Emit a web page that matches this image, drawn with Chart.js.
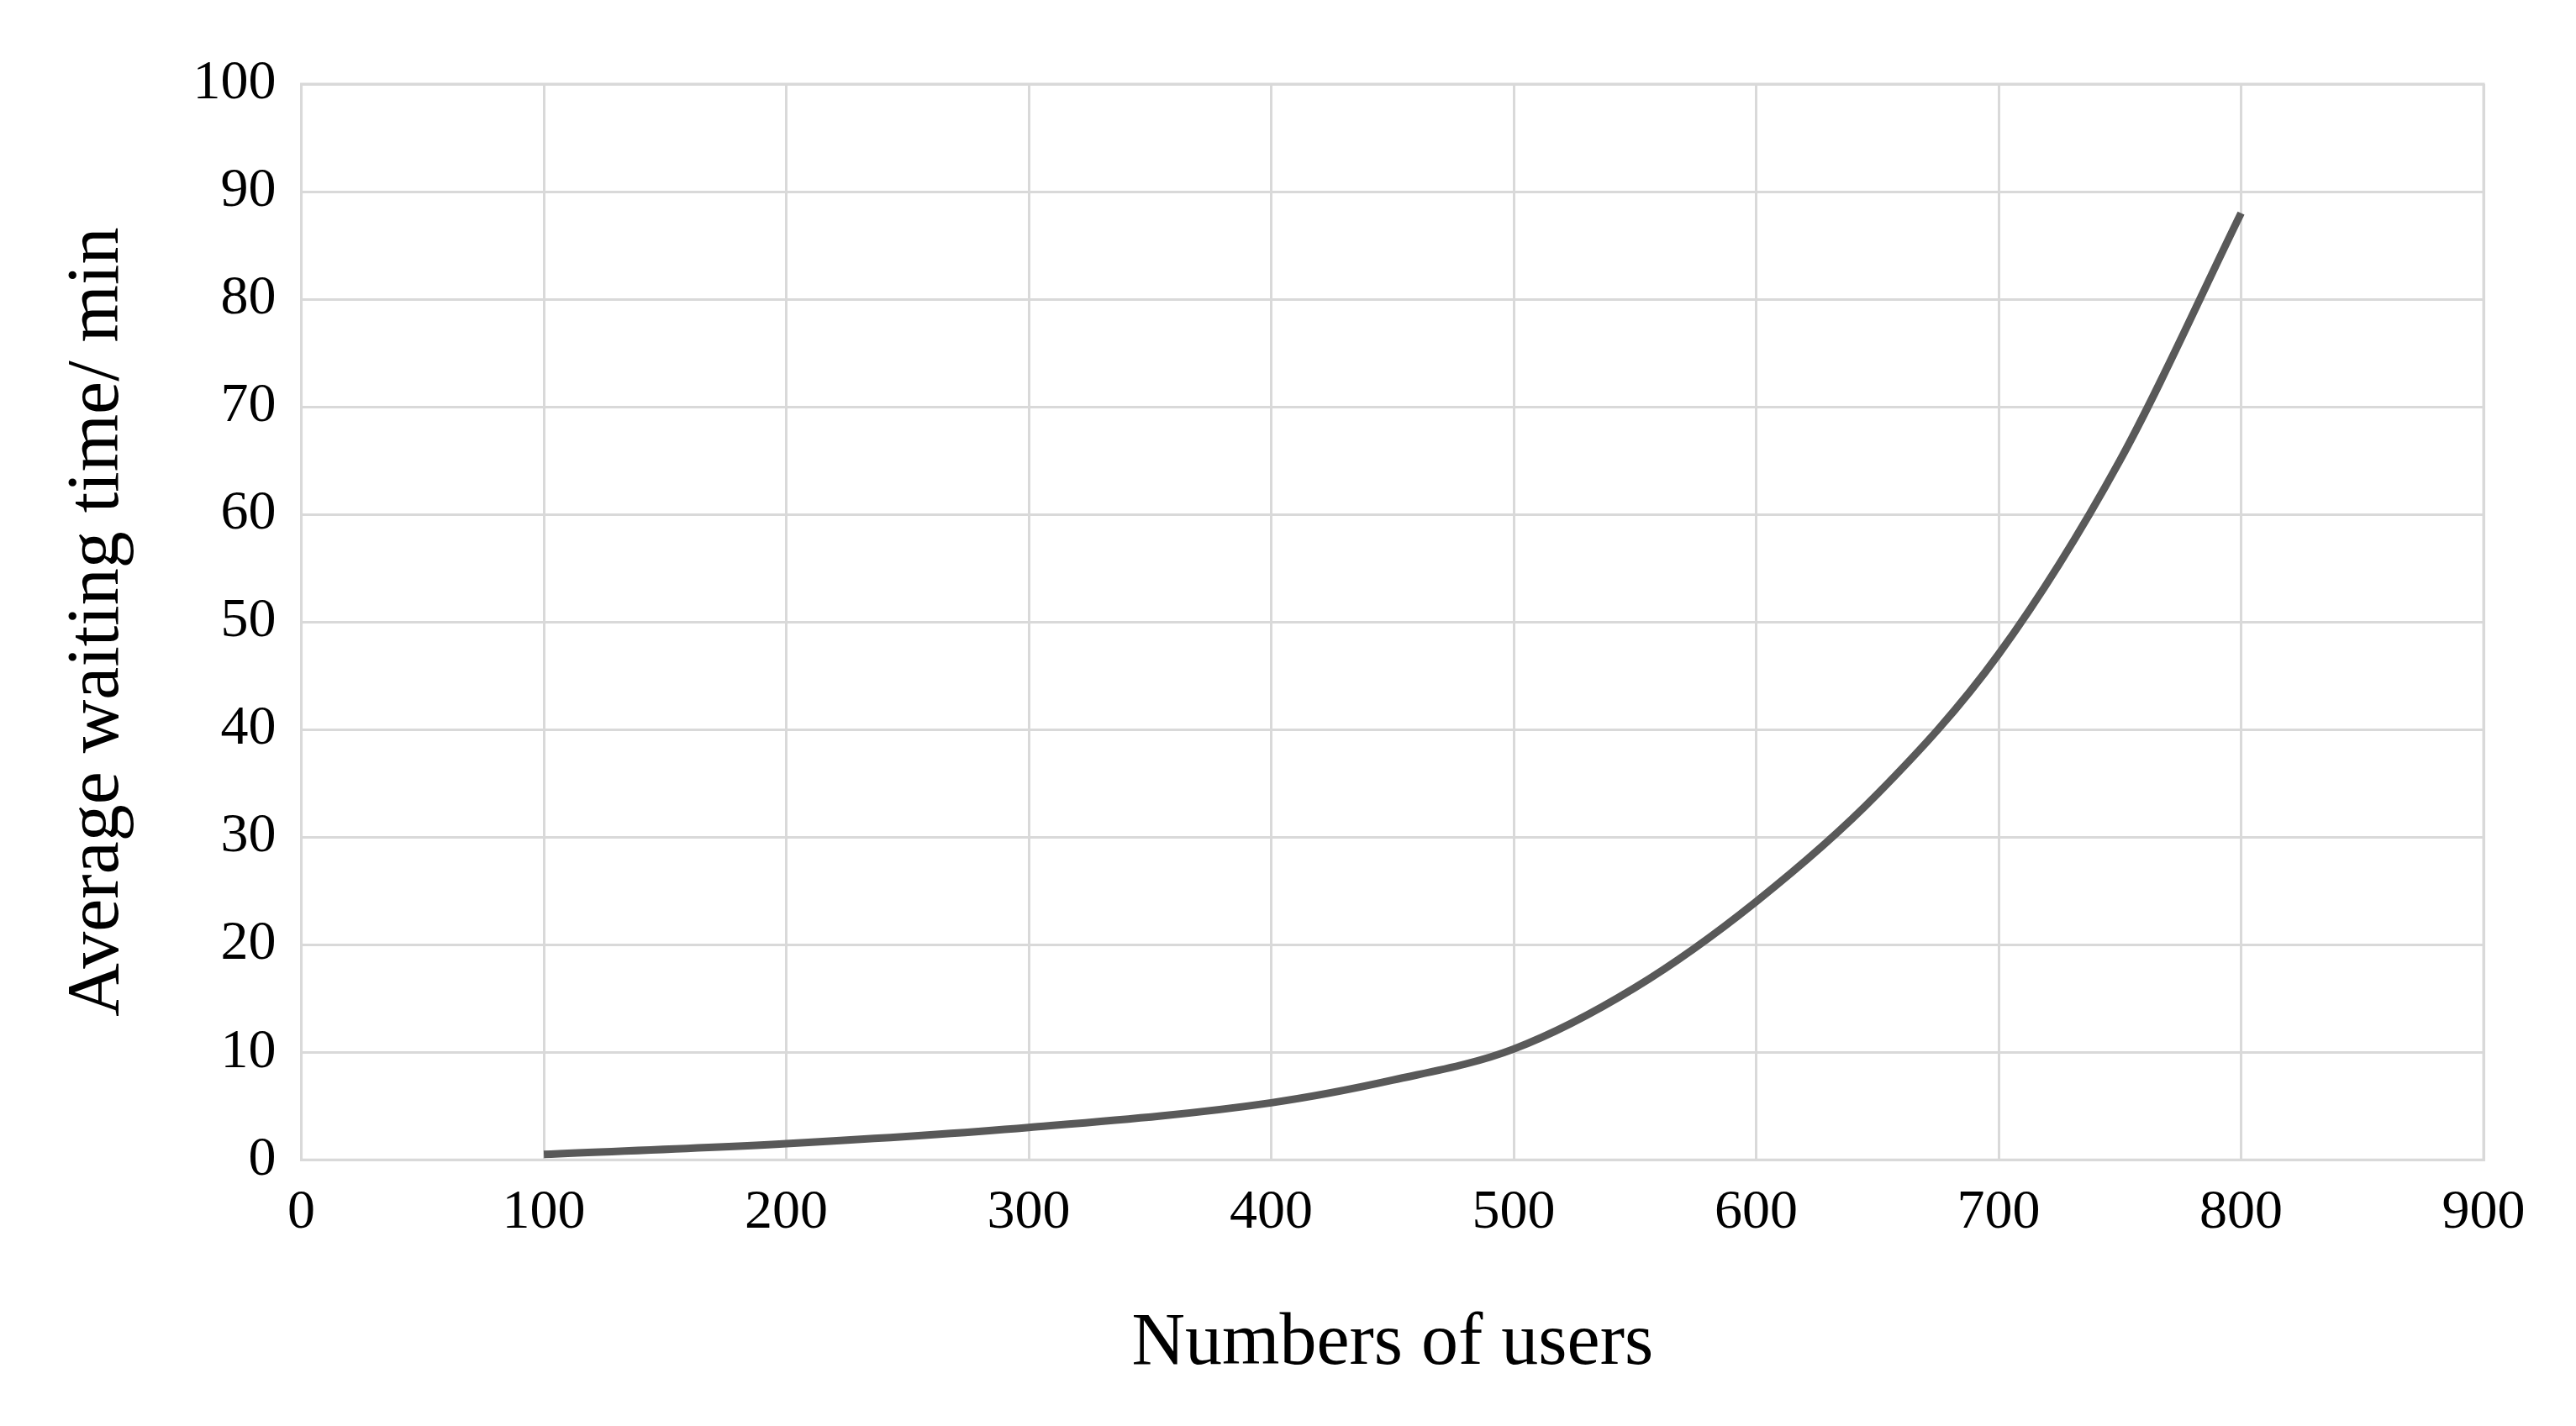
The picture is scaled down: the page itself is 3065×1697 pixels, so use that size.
<!DOCTYPE html>
<html>
<head>
<meta charset="utf-8">
<script src="https://cdn.jsdelivr.net/npm/chart.js@4/dist/chart.umd.min.js"></script>
<style>
  html, body { margin: 0; padding: 0; background: #fff; }
</style>
</head>
<body>
<canvas id="myChart" width="3065" height="1697"></canvas>
<script>
// values
var users = [100, 200, 300, 400, 450, 500, 550, 600, 650, 700, 750, 800]
var waitMin = [0.5, 1.5, 3, 5.3, 7.4, 10.3, 16, 24, 34, 47, 65, 88]
var xTitle = 'Numbers of users'
var yTitle = 'Average waiting time/ min'

var points = []
for (var i = 0; i < users.length; i++) {
    points.push({ x: users[i], y: waitMin[i] })
}

var serif = '"Liberation Serif", "DejaVu Serif", serif'
var ctx = document.getElementById('myChart').getContext('2d')
var chart = new Chart(ctx, {
    type: 'line',
    data: {
        datasets: [{
            data: points,
            borderColor: '#595959',
            borderWidth: 9,
            pointRadius: 0,
            cubicInterpolationMode: 'monotone',
            fill: false
        }]
    },
    options: {
        responsive: false,
        devicePixelRatio: 1,
        animation: false,
        layout: { padding: { top: 100, right: 110, bottom: 40, left: 60 } },
        plugins: { legend: { display: false }, tooltip: { enabled: false } },
        scales: {
            x: {
                type: 'linear', min: 0, max: 900,
                ticks: { stepSize: 100, color: '#000', font: { family: serif, size: 66 }, padding: 24 },
                grid: { color: '#d9d9d9', lineWidth: 3, drawTicks: false },
                border: { color: '#d9d9d9', width: 3 },
                title: { display: true, text: xTitle, color: '#000', font: { family: serif, size: 88 }, padding: { top: 40 } }
            },
            y: {
                min: 0, max: 100,
                ticks: { stepSize: 10, color: '#000', font: { family: serif, size: 66 }, padding: 30 },
                grid: { color: '#d9d9d9', lineWidth: 3, drawTicks: false },
                border: { color: '#d9d9d9', width: 3 },
                title: { display: true, text: yTitle, color: '#000', font: { family: serif, size: 88 }, padding: { bottom: 30 } }
            }
        }
    },
    plugins: [{
        id: 'frame',
        afterDraw: function (c) {
            var a = c.chartArea, g = c.ctx
            g.save()
            g.strokeStyle = '#d9d9d9'
            g.lineWidth = 3
            g.strokeRect(a.left, a.top, a.right - a.left, a.bottom - a.top)
            g.restore()
        }
    }]
})
</script>
</body>
</html>
